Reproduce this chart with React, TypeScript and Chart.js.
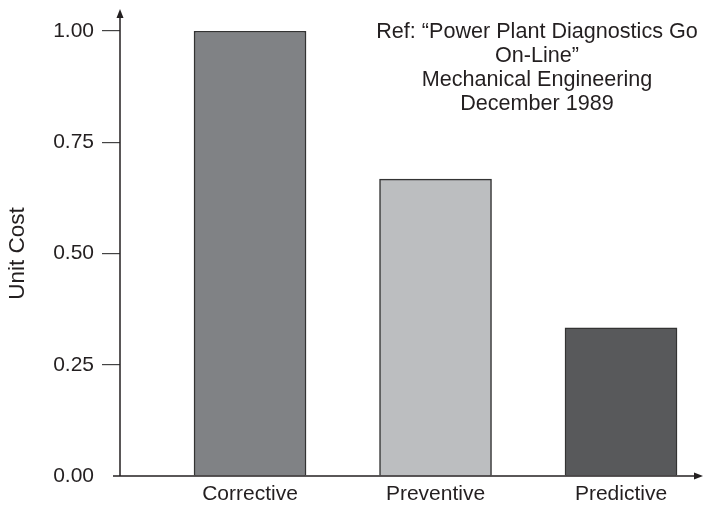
import React, { useEffect, useRef } from "react";
import { Chart, registerables } from "chart.js";

Chart.register(...registerables);

const categories = ["Corrective", "Preventive", "Predictive"];
const positions = [1, 2, 3];
const unitCost = [1.0, 0.667, 0.333];
const barColors = ["#808285", "#bcbec0", "#58595b"];
const yTicks = [0, 0.25, 0.5, 0.75, 1.0];
const noteLines = [
  "Ref: \u201CPower Plant Diagnostics Go",
  "On-Line\u201D",
  "Mechanical Engineering",
  "December 1989",
];

const FONT = "'Liberation Sans', Arial, Helvetica, sans-serif";
const INK = "#231f20";

const axesPlugin = {
  id: "axesArrows",
  afterDraw(chart: any) {
    const { ctx, chartArea } = chart;
    const { left, right, top, bottom } = chartArea;
    ctx.save();
    ctx.strokeStyle = INK;
    ctx.fillStyle = INK;
    ctx.lineWidth = 1.5;
    // y axis
    const yTip = top - 22;
    ctx.beginPath();
    ctx.moveTo(left, bottom);
    ctx.lineTo(left, yTip + 6);
    ctx.stroke();
    ctx.beginPath();
    ctx.moveTo(left, yTip);
    ctx.lineTo(left - 3.5, yTip + 9);
    ctx.lineTo(left + 3.5, yTip + 9);
    ctx.closePath();
    ctx.fill();
    // x axis
    const xTip = right;
    ctx.beginPath();
    ctx.moveTo(left - 7, bottom);
    ctx.lineTo(xTip - 6, bottom);
    ctx.stroke();
    ctx.beginPath();
    ctx.moveTo(xTip, bottom);
    ctx.lineTo(xTip - 9, bottom - 3.5);
    ctx.lineTo(xTip - 9, bottom + 3.5);
    ctx.closePath();
    ctx.fill();
    // note
    ctx.font = `21.6px ${FONT}`;
    ctx.textAlign = "center";
    ctx.textBaseline = "middle";
    const cx = 537;
    noteLines.forEach((line, i) => {
      ctx.fillText(line, cx, 32 + i * 24);
    });
    ctx.restore();
  },
};

export default function App() {
  const ref = useRef<HTMLCanvasElement | null>(null);

  useEffect(() => {
    document.body.style.margin = "0";
    const canvas = ref.current;
    if (!canvas) return;
    const chart = new Chart(canvas, {
      type: "bar",
      data: {
        datasets: [
          {
            data: positions.map((x, i) => ({ x, y: unitCost[i] })),
            backgroundColor: barColors,
            borderColor: "#333333",
            borderWidth: 1.5,
            barThickness: 112,
          },
        ],
      },
      options: {
        responsive: false,
        animation: false,
        layout: { padding: { top: 31, right: 0, bottom: 0, left: 0 } },
        plugins: {
          legend: { display: false },
          tooltip: { enabled: false },
        },
        scales: {
          x: {
            type: "linear",
            offset: false,
            min: 0.299,
            max: 3.442,
            grid: { display: false, drawTicks: false, offset: false },
            border: { display: false },
            afterBuildTicks: (scale: any) => {
              scale.ticks = positions.map((v) => ({ value: v }));
            },
            afterFit: (scale: any) => {
              scale.height = 31;
            },
            ticks: {
              padding: 6,
              color: INK,
              font: { family: FONT, size: 21 },
              maxRotation: 0,
              autoSkip: false,
              callback: (v: any) => categories[positions.indexOf(Number(v))] ?? "",
            },
          },
          y: {
            min: 0,
            max: 1,
            afterBuildTicks: (scale: any) => {
              scale.ticks = yTicks.map((v) => ({ value: v }));
            },
            afterFit: (scale: any) => {
              scale.width = 120;
            },
            grid: {
              drawOnChartArea: false,
              drawTicks: true,
              tickLength: 18,
              lineWidth: 1.2,
              color: (c: any) => (c.tick && c.tick.value === 0 ? "rgba(0,0,0,0)" : "#444444"),
            },
            border: { display: false },
            ticks: {
              padding: 8,
              color: INK,
              font: { family: FONT, size: 21 },
              callback: (v: any) => Number(v).toFixed(2),
            },
            title: {
              display: true,
              text: "Unit Cost",
              color: INK,
              font: { family: FONT, size: 22.5 },
              padding: { top: 4, bottom: 0 },
            },
          },
        },
      },
      plugins: [axesPlugin],
    } as any);
    return () => chart.destroy();
  }, []);

  return (
    <div style={{ width: 703, height: 507 }}>
      <canvas ref={ref} width={703} height={507} style={{ width: 703, height: 507, display: "block" }} />
    </div>
  );
}
